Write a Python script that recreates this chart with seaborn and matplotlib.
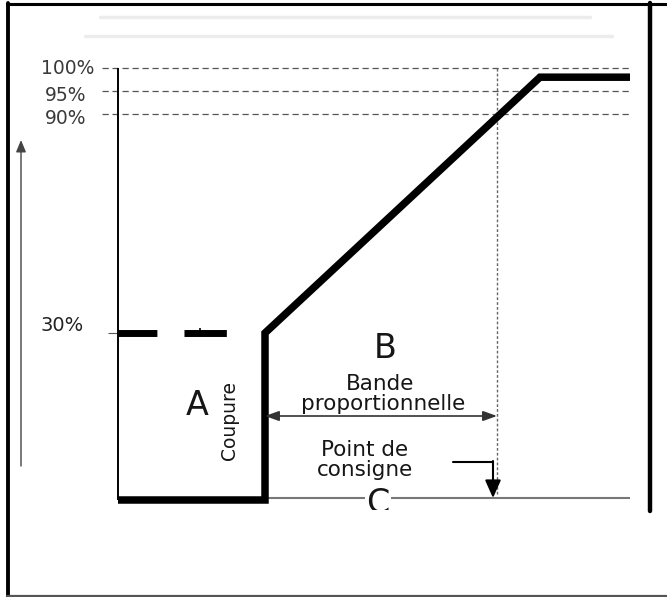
import numpy as np
import pandas as pd
import matplotlib
matplotlib.use("Agg")
import matplotlib.pyplot as plt
import matplotlib.transforms as mtransforms
from matplotlib.lines import Line2D
import seaborn as sns

sns.set_theme(style="white")
plt.rcParams["font.family"] = ["DejaVu Sans"]

# Response curve: output (%) against the controlled variable (arbitrary units)
curve_x = [0.0, 14.7, 14.7, 42.2, 51.2]
curve_pct = [0, 0, 30, 98, 98]

# Cut-off segment drawn dashed at the minimum output level
cutoff_x = [0.0, 14.7]
cutoff_pct = [30, 30]

# Reference levels and their labels
grid_pct = [100, 95, 90]
grid_labels = ["100%", "95%", "90%"]
min_pct = 30
min_label = "30%"

cutoff_pos = 14.7      # "Coupure"
setpoint_pos = 37.9    # "Point de consigne"
axis_end = 51.2

zone_labels = ["A", "B", "C"]
band_lines = ["Bande", "proportionnelle"]
setpoint_lines = ["Point de", "consigne"]
cut_label = "Coupure"

# Piecewise output scale (the diagram is not drawn to scale below 30 %)
pct_knots = [-100, 0, 30, 90, 95, 100, 300]
pos_knots = [-100, 0, 38.66, 89.35, 94.68, 100, 300]


def fwd(v):
    return np.interp(v, pct_knots, pos_knots)


def inv(v):
    return np.interp(v, pos_knots, pct_knots)


W, H = 667, 597
fig = plt.figure(figsize=(W / 100, H / 100), dpi=100)
fig.patch.set_facecolor("white")
ax = fig.add_axes([0, 87 / H, 1, 510 / H])
ax.set_axis_off()
ax.set_yscale("function", functions=(fwd, inv))
ax.set_xlim(-11.8, 54.9)
ax.set_ylim(-2.315, 115.74)

# pixel-space transform (origin top-left) for frame and annotations
P = mtransforms.Affine2D().scale(1 / W, -1 / H).translate(0, 1) + fig.transFigure
XP = mtransforms.blended_transform_factory(ax.transData, P)
PY = mtransforms.blended_transform_factory(P, ax.transData)

ink = "#161616"

# faint header lines
for y, x0, x1 in [(17, 100, 590), (36, 85, 612)]:
    fig.add_artist(Line2D([x0, x1], [y, y], transform=P, color="#ececec", lw=2.5))

# reference grid
ax.hlines(grid_pct, -1.6, 51.4, colors="#555555", lw=0.9, linestyles=(0, (5, 3)))
label_right = [94, 86, 86]
label_dy = [-1, -5, -4]
for p, lab, xr, dy in zip(grid_pct, grid_labels, label_right, label_dy):
    ax.annotate(lab, xy=(xr, p), xycoords=PY, xytext=(0, dy), textcoords="offset pixels",
                ha="right", va="center", fontsize=13.5, color="#3a3a3a")
ax.annotate(min_label, xy=(84, min_pct), xycoords=PY, xytext=(0, 7),
            textcoords="offset pixels", ha="right", va="center",
            fontsize=14, color="#222222")
ax.hlines(min_pct, -1.0, 0, colors="#555555", lw=0.8)

# output axis
ax.vlines(0, 0, 100, colors="black", lw=1.4)

# set point marker line
ax.vlines(setpoint_pos, 1, 100, colors="#666666", lw=1.0, linestyles=(0, (2, 1.5)))

# base line of the controlled variable
ax.hlines(0.4, cutoff_pos, axis_end, colors="#777777", lw=1.5)

# the response curve
df = pd.DataFrame({"x": curve_x, "pct": curve_pct})
sns.lineplot(data=df, x="x", y="pct", sort=False, estimator=None, ax=ax,
             color="black", lw=5.4, solid_joinstyle="miter", solid_capstyle="butt")
ax.plot(cutoff_x, cutoff_pct, color="black", lw=5.0, solid_capstyle="butt",
        linestyle=(0, (5.6, 3.9, 6.1, 30)))
ax.vlines(8.2, 30, 31.5, colors="black", lw=1.2)

# zone labels
ax.text(197, 415, zone_labels[0], transform=P, ha="center", va="baseline",
        fontsize=24, color=ink)
ax.text(229, 420, cut_label, transform=P, ha="center", va="center", fontsize=13.5,
        rotation=90, color=ink)
ax.text(385, 358, zone_labels[1], transform=P, ha="center", va="baseline",
        fontsize=24, color=ink)
ax.text(380, 390, band_lines[0], transform=P, ha="center", va="baseline",
        fontsize=15.5, color=ink)
ax.text(383, 410, band_lines[1], transform=P, ha="center", va="baseline",
        fontsize=15.5, color=ink)
ax.text(365, 456, setpoint_lines[0], transform=P, ha="center", va="baseline",
        fontsize=15.5, color=ink)
ax.text(365, 476, setpoint_lines[1], transform=P, ha="center", va="baseline",
        fontsize=15.5, color=ink)
ax.text(378, 513, zone_labels[2], transform=P, ha="center", va="baseline",
        fontsize=24, color=ink, clip_on=True,
        bbox=dict(boxstyle="square,pad=0.05", fc="white", ec="none"))

# proportional band arrow
ax.annotate("", xy=(cutoff_pos, 416), xytext=(setpoint_pos, 416),
            xycoords=XP, textcoords=XP,
            arrowprops=dict(arrowstyle="<|-|>,head_length=0.7,head_width=0.25",
                            color="#333333", lw=1.2, shrinkA=0, shrinkB=0))

# set point pointer
fig.add_artist(Line2D([453, 493], [462, 462], transform=P, color="black", lw=1.5))
ax.annotate("", xy=(493, 498), xytext=(493, 461), xycoords=P, textcoords=P,
            arrowprops=dict(arrowstyle="-|>,head_length=0.9,head_width=0.4",
                            color="black", lw=1.5, shrinkA=0, shrinkB=0))

# increasing output arrow on the left
ax.annotate("", xy=(21, 140), xytext=(21, 466), xycoords=P, textcoords=P,
            arrowprops=dict(arrowstyle="-|>,head_length=0.6,head_width=0.25",
                            color="#444444", lw=1.0, shrinkA=0, shrinkB=0))

# frame
fig.add_artist(Line2D([8, 8], [3, 597], transform=P, color="black", lw=2.8))
fig.add_artist(Line2D([7, 667], [4, 4], transform=P, color="black", lw=2.2))
fig.add_artist(Line2D([650, 650], [3, 511], transform=P, color="black", lw=3.2))
fig.add_artist(Line2D([7, 667], [595.5, 595.5], transform=P, color="#555555", lw=1.6))

fig.savefig("out.png", dpi=100, facecolor="white")
